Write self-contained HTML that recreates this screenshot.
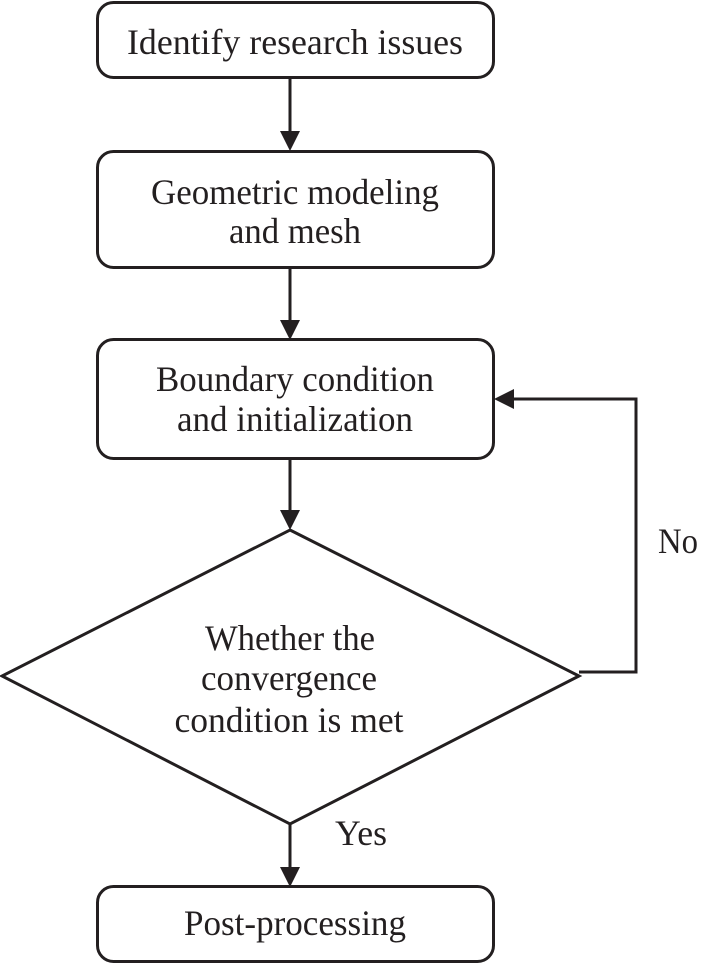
<!DOCTYPE html>
<html><head><meta charset="utf-8"><style>
html,body{margin:0;padding:0;background:#fff;}
svg{display:block;}
text{font-family:"Liberation Serif",serif;font-size:36px;fill:#231f20;}
</style></head><body>
<svg width="701" height="964" viewBox="0 0 701 964" xmlns="http://www.w3.org/2000/svg">
<g fill="none" stroke="#231f20" stroke-width="3">
<rect x="97.5" y="2.5" width="396" height="75" rx="16"/>
<rect x="97.5" y="151.5" width="396" height="116" rx="16"/>
<rect x="97.5" y="339.5" width="396" height="119" rx="16"/>
<rect x="97.5" y="886.5" width="396" height="75" rx="16"/>
<polygon points="290,530 579,676 290,824 2,676"/>
<line x1="290" y1="78" x2="290" y2="134"/>
<line x1="290" y1="268" x2="290" y2="322"/>
<line x1="290" y1="459" x2="290" y2="512"/>
<line x1="290" y1="824" x2="290" y2="869"/>
<polyline points="579,672 636,672 636,399 512,399"/>
</g>
<g fill="#231f20">
<polygon points="280,131 300,131 290,151"/>
<polygon points="280,320 300,320 290,340"/>
<polygon points="280,510 300,510 290,530"/>
<polygon points="280,867 300,867 290,887"/>
<polygon points="494,399 514,389 514,409"/>
</g>
<g text-anchor="middle">
<text x="295" y="54" textLength="336" lengthAdjust="spacingAndGlyphs">Identify research issues</text>
<text x="295" y="204" textLength="288" lengthAdjust="spacingAndGlyphs">Geometric modeling</text>
<text x="295" y="243" textLength="132" lengthAdjust="spacingAndGlyphs">and mesh</text>
<text x="295" y="391" textLength="278" lengthAdjust="spacingAndGlyphs">Boundary condition</text>
<text x="295" y="431" textLength="236" lengthAdjust="spacingAndGlyphs">and initialization</text>
<text x="290" y="650" textLength="170" lengthAdjust="spacingAndGlyphs">Whether the</text>
<text x="289" y="690" textLength="176" lengthAdjust="spacingAndGlyphs">convergence</text>
<text x="289" y="732" textLength="229" lengthAdjust="spacingAndGlyphs">condition is met</text>
<text x="295" y="935" textLength="222" lengthAdjust="spacingAndGlyphs">Post-processing</text>
</g>
<text x="658" y="553" textLength="40" lengthAdjust="spacingAndGlyphs">No</text>
<text x="335" y="845" textLength="52" lengthAdjust="spacingAndGlyphs">Yes</text>
</svg>
</body></html>
